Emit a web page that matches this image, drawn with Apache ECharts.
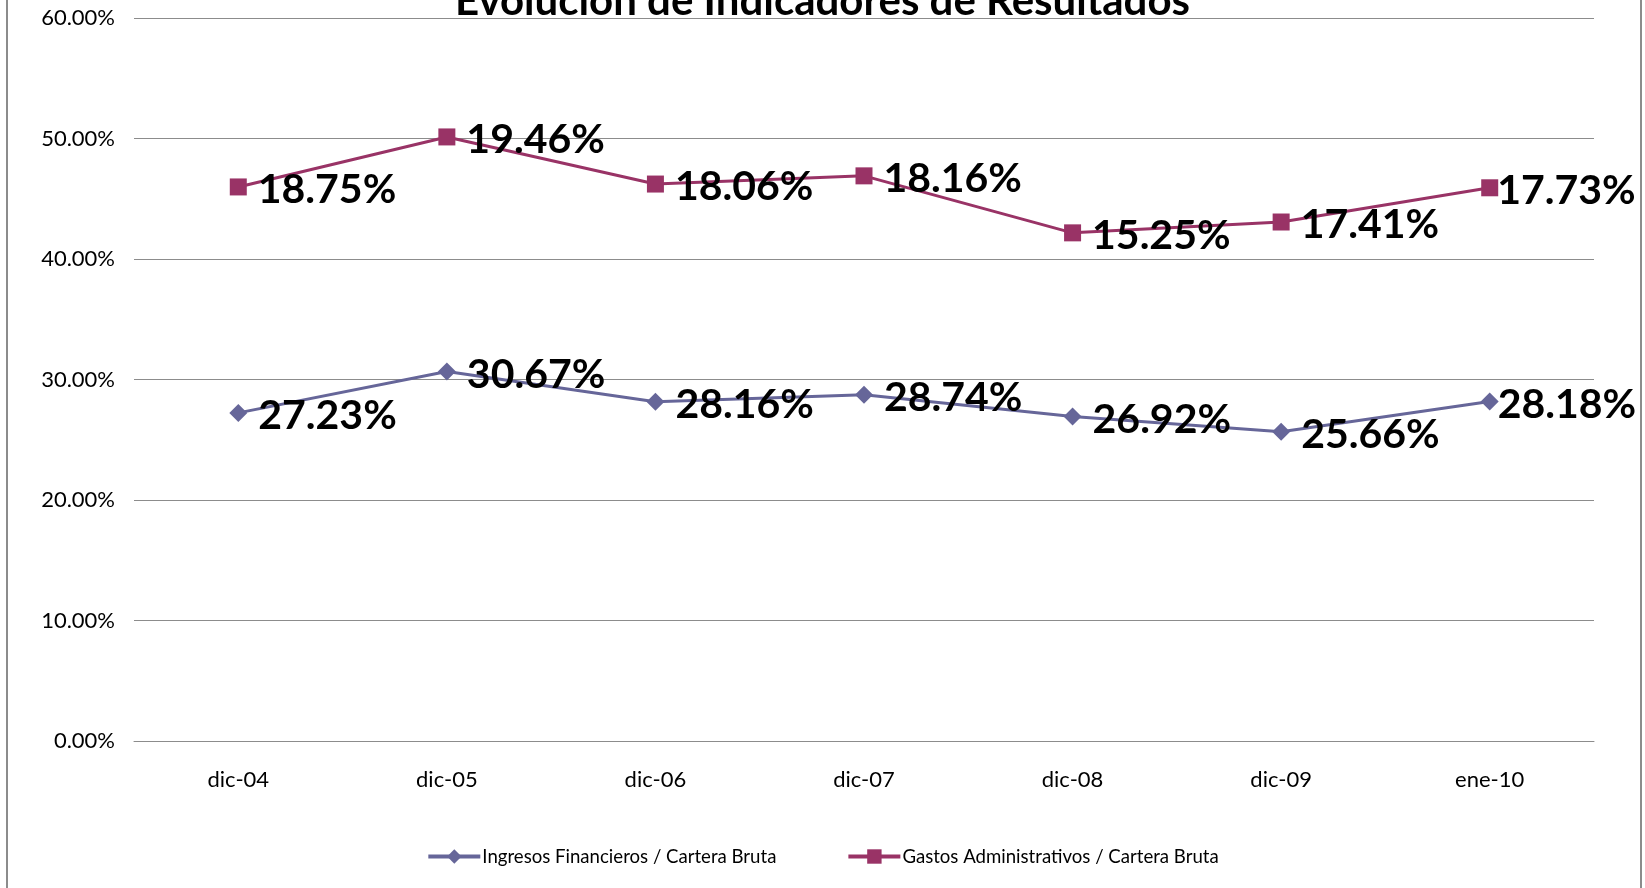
<!DOCTYPE html>
<html>
<head>
<meta charset="utf-8">
<script src="https://cdn.jsdelivr.net/npm/echarts@6/dist/echarts.min.js"></script>
<style>
    html, body { margin: 0; padding: 0; background: #fff; }
    #chart { width: 1645px; height: 888px; }
</style>
</head>
<body>
<div id="chart"></div>
<script>
    // datos (porcentajes)
    const categories = ['dic-04', 'dic-05', 'dic-06', 'dic-07', 'dic-08', 'dic-09', 'ene-10']
    const ingresos = [27.23, 30.67, 28.16, 28.74, 26.92, 25.66, 28.18]
    const gastos = [18.75, 19.46, 18.06, 18.16, 15.25, 17.41, 17.73]
    const yTicks = [0, 10, 20, 30, 40, 50, 60]

    const font = 'Lato'

    let chart = echarts.init(document.getElementById('chart'))

    // el ultimo rotulo queda pegado al punto (Excel lo ajusta al borde)
    function withLastLabel(values) {
        return values.map((v, i) => i === values.length - 1
            ? { value: v, label: { offset: [-12, 3] } }
            : v)
    }

    // etiqueta de datos estilo Excel (muestra el valor propio, no el apilado)
    let dataLabel = {
        show: true,
        position: 'right',
        distance: 11,
        offset: [0, 3],
        formatter: p => p.value.toFixed(2) + '%',
        fontFamily: font,
        fontWeight: 'bold',
        fontSize: 41,
        color: '#000'
    }

    let option = {
        animation: false,
        backgroundColor: '#fff',
        title: {
            text: 'Evolución de Indicadores de Resultados',
            left: 'center',
            top: -25,
            textStyle: {
                fontFamily: font,
                fontWeight: 'bold',
                fontSize: 42,
                color: '#000'
            }
        },
        graphic: [{
            type: 'rect',
            shape: { x: 7, y: -10, width: 1634, height: 910 },
            style: { fill: 'none', stroke: '#8c8c8c', lineWidth: 2 },
            silent: true
        }],
        legend: {
            bottom: 17,
            left: 'center',
            itemWidth: 52,
            itemHeight: 18,
            itemGap: 70,
            lineStyle: { width: 4 },
            textStyle: { fontFamily: font, fontSize: 18.6, color: '#000', padding: [0, 0, 0, -3] },
            data: ['Ingresos Financieros / Cartera Bruta', 'Gastos Administrativos / Cartera Bruta']
        },
        grid: {
            left: 134,
            right: 51,
            top: 18,
            bottom: 147
        },
        xAxis: {
            type: 'category',
            data: categories,
            axisLine: { lineStyle: { color: '#8c8c8c', width: 1 } },
            axisTick: { show: false },
            axisLabel: { fontFamily: font, fontSize: 22, color: '#000', margin: 28 }
        },
        yAxis: {
            type: 'value',
            min: yTicks[0],
            max: yTicks[yTicks.length - 1],
            interval: 10,
            axisLine: { show: false },
            axisTick: { show: false },
            splitLine: { lineStyle: { color: '#8c8c8c', width: 1 } },
            axisLabel: {
                fontFamily: font,
                fontSize: 22,
                color: '#000',
                margin: 19,
                formatter: v => v.toFixed(2) + '%'
            }
        },
        series: [
            {
                name: 'Ingresos Financieros / Cartera Bruta',
                type: 'line',
                stack: 'total',
                data: withLastLabel(ingresos),
                symbol: 'diamond',
                symbolSize: 18,
                itemStyle: { color: '#666699' },
                lineStyle: { color: '#666699', width: 3 },
                label: dataLabel
            },
            {
                name: 'Gastos Administrativos / Cartera Bruta',
                type: 'line',
                stack: 'total',
                data: withLastLabel(gastos),
                symbol: 'rect',
                symbolSize: 17,
                itemStyle: { color: '#993366' },
                lineStyle: { color: '#993366', width: 3 },
                label: dataLabel
            }
        ]
    }

    chart.setOption(option)
</script>
</body>
</html>
